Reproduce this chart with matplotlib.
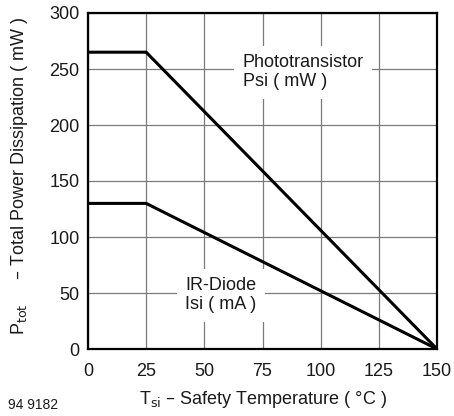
import matplotlib.pyplot as plt

plt.rcParams['font.family'] = ['Liberation Sans', 'DejaVu Sans']

# Safety temperature (deg C) and limits
temp = [0, 25, 150]
photo_psi = [265, 265, 0]   # Phototransistor Psi (mW)
diode_isi = [130, 130, 0]   # IR-Diode Isi (mA)

xticks = [0, 25, 50, 75, 100, 125, 150]
yticks = [0, 50, 100, 150, 200, 250, 300]

fig = plt.figure(figsize=(4.54, 4.16), dpi=100)
ax = fig.add_axes([88 / 454, 1 - 349 / 416, 349 / 454, 336 / 416])

ax.plot(temp, photo_psi, color='black', linewidth=2.2, solid_capstyle='butt', zorder=4)
ax.plot(temp, diode_isi, color='black', linewidth=2.2, solid_capstyle='butt', zorder=4)

ax.set_xlim(0, 150)
ax.set_ylim(0, 300)
ax.set_xticks(xticks)
ax.set_yticks(yticks)
ax.grid(True, color='#7a7a7a', linewidth=0.9)
ax.set_axisbelow(True)
ax.tick_params(length=0, labelsize=13, colors='#1a1a1a')
ax.tick_params(axis='x', pad=10)
ax.tick_params(axis='y', pad=6)
for s in ax.spines.values():
    s.set_linewidth(1.6)
    s.set_zorder(5)

box = dict(facecolor='white', edgecolor='none', pad=6)
ax.text(66.5, 247, 'Phototransistor\nPsi ( mW )', fontsize=13, ha='left', va='center',
        color='#1a1a1a', linespacing=1.15, bbox=box, zorder=3)
ax.text(57, 48, 'IR-Diode\nIsi ( mA )', fontsize=13, ha='center', va='center',
        color='#1a1a1a', linespacing=1.15, bbox=box, zorder=3)

fig.text(20 / 454, 1 - 176 / 416, r'P$_{\mathrm{tot}}$     – Total Power Dissipation ( mW )',
         rotation=90, fontsize=13, ha='center', va='center', color='#1a1a1a')
fig.text(263 / 454, 1 - 400 / 416, r'T$_{\mathrm{si}}$ – Safety Temperature ( °C )',
         fontsize=13, ha='center', va='center', color='#1a1a1a')
fig.text(8 / 454, 1 - 405 / 416, '94 9182', fontsize=10, ha='left', va='center', color='#1a1a1a')

fig.savefig('out.png', dpi=100)
